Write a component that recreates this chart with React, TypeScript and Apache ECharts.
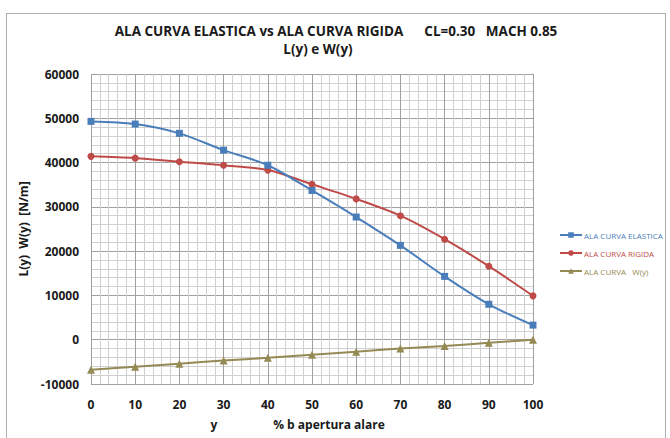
import React, { useEffect, useRef } from "react";
import * as echarts from "echarts";

const xValues = [0, 10, 20, 30, 40, 50, 60, 70, 80, 90, 100];
const elastica = [49300, 48700, 46600, 42800, 39400, 33700, 27700, 21300, 14300, 8000, 3300];
const rigida = [41400, 41000, 40200, 39400, 38300, 35100, 31800, 28000, 22700, 16600, 9900];
const wy = [-6800, -6100, -5400, -4700, -4100, -3400, -2700, -2000, -1400, -700, 0];

const titleLine1 = "ALA CURVA ELASTICA vs ALA CURVA RIGIDA      CL=0.30   MACH 0.85";
const titleLine2 = "L(y) e W(y)";
const yName = "L(y)  W(y)  [N/m]";
const names = ["ALA CURVA ELASTICA", "ALA CURVA RIGIDA", "ALA CURVA   W(y)"];
const colors = ["#4a7ebb", "#be4b48", "#948a54"];

export default function App() {
  const ref = useRef<HTMLDivElement>(null);
  useEffect(() => {
    if (!ref.current) return;
    const chart = echarts.init(ref.current, null, { renderer: "svg" });
    const font = "'Open Sans', sans-serif";
    const mk = (arr: number[]) => xValues.map((x, i) => [x, arr[i]]);
    const symbols = ["rect", "circle", "triangle"];
    const seriesData = [elastica, rigida, wy];
    chart.setOption({
      animation: false,
      backgroundColor: "#ffffff",
      grid: { left: 91, top: 74, width: 442, height: 310, containLabel: false },
      graphic: [
        { type: "line", shape: { x1: 6, y1: 13.5, x2: 665, y2: 13.5 }, style: { stroke: "#b0b0b0", lineWidth: 1 } },
        { type: "line", shape: { x1: 6.5, y1: 13, x2: 6.5, y2: 438 }, style: { stroke: "#b0b0b0", lineWidth: 1 } },
        { type: "line", shape: { x1: 665.5, y1: 13, x2: 665.5, y2: 438 }, style: { stroke: "#b0b0b0", lineWidth: 1 } },
        { type: "text", x: 336, y: 31, style: { text: titleLine1, font: `bold 13.5px ${font}`, fill: "#1a1a1a", align: "center", verticalAlign: "middle" } },
        { type: "text", x: 318, y: 49, style: { text: titleLine2, font: `bold 13.5px ${font}`, fill: "#1a1a1a", align: "center", verticalAlign: "middle" } },
        { type: "text", x: 214, y: 424, style: { text: "y", font: `bold 12px ${font}`, fill: "#1a1a1a", align: "center", verticalAlign: "middle" } },
        { type: "text", x: 329, y: 424, style: { text: "% b apertura alare", font: `bold 12px ${font}`, fill: "#1a1a1a", align: "center", verticalAlign: "middle" } },
      ],
      legend: {
        orient: "vertical",
        left: 554,
        top: 226,
        itemWidth: 22,
        itemHeight: 7,
        itemGap: 10,
        data: names.map((n, i) => ({ name: n, textStyle: { color: colors[i], fontSize: 8, fontFamily: font, padding: [0, 0, 0, -3] } })),
      },
      xAxis: {
        type: "value",
        min: 0,
        max: 100,
        interval: 10,
        axisLine: { show: false },
        axisTick: { show: false },
        axisLabel: { fontWeight: "bold", fontSize: 12, color: "#1a1a1a", fontFamily: font, margin: 14 },
        splitLine: { show: true, lineStyle: { color: "#a0a0a0", width: 1 } },
        minorTick: { show: false, splitNumber: 5 },
        minorSplitLine: { show: true, lineStyle: { color: "#cfcfcf", width: 1 } },
      },
      yAxis: {
        type: "value",
        min: -10000,
        max: 60000,
        interval: 10000,
        name: yName,
        nameLocation: "middle",
        nameGap: 49,
        nameTextStyle: { fontWeight: "bold", fontSize: 12, color: "#1a1a1a", fontFamily: font },
        axisLine: { show: false },
        axisTick: { show: false },
        axisLabel: { fontWeight: "bold", fontSize: 12, color: "#1a1a1a", fontFamily: font, margin: 12, formatter: (v: number) => String(v) },
        splitLine: { show: true, lineStyle: { color: "#a0a0a0", width: 1 } },
        minorTick: { show: false, splitNumber: 5 },
        minorSplitLine: { show: true, lineStyle: { color: "#cfcfcf", width: 1 } },
      },
      series: names.map((n, i) => ({
        name: n,
        type: "line",
        data: mk(seriesData[i]),
        smooth: 0.3,
        symbol: symbols[i],
        symbolSize: i === 2 ? 8 : 7,
        showSymbol: true,
        lineStyle: { color: colors[i], width: 2 },
        itemStyle: { color: colors[i] },
        z: 3 - i,
      })),
    });
    return () => chart.dispose();
  }, []);
  return <div ref={ref} style={{ position: "fixed", left: 0, top: 0, width: 670, height: 438 }} />;
}
